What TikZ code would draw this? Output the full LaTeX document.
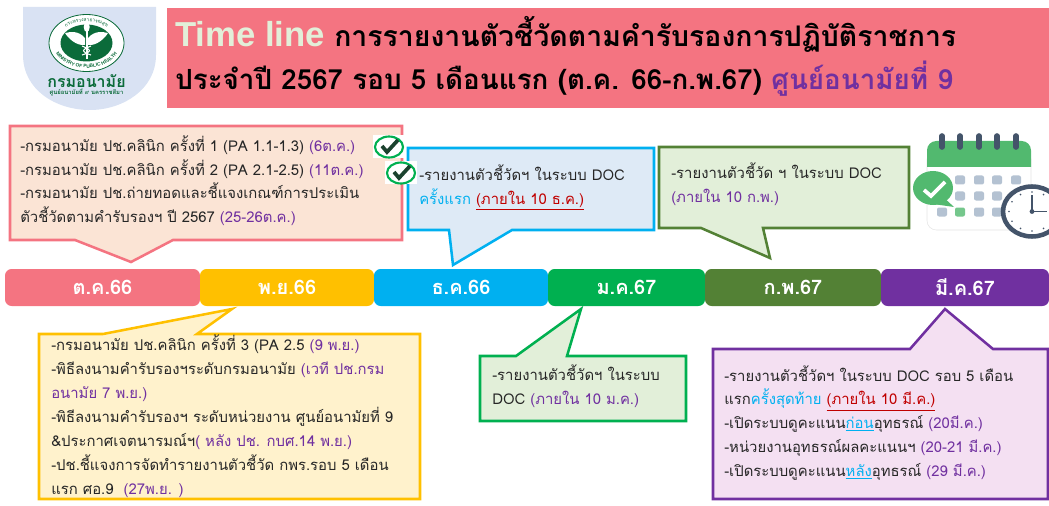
\documentclass[tikz,border=0pt]{standalone}
\usepackage{fontspec}
\usepackage{xcolor}
\usetikzlibrary{calc}
\usetikzlibrary{decorations.text}
\newfontfamily\thaifont[Script=Thai]{Loma}
\newfontfamily\headfont{Liberation Sans}
\definecolor{rosec}{HTML}{F47481}
\definecolor{goldc}{HTML}{FFC000}
\definecolor{skyc}{HTML}{00B0F0}
\definecolor{leafc}{HTML}{00B050}
\definecolor{olivec}{HTML}{538135}
\definecolor{purpc}{HTML}{7030A0}
\definecolor{redc}{HTML}{C00000}
\definecolor{inkc}{HTML}{262626}
\definecolor{logoc}{HTML}{0B6B3A}
\definecolor{logobg}{HTML}{D9E2F3}
\definecolor{peachbg}{HTML}{FBE4D5}
\definecolor{creambg}{HTML}{FFF2CC}
\definecolor{palebg}{HTML}{DEEAF6}
\definecolor{greenbg}{HTML}{E2EFD9}
\definecolor{lilacbg}{HTML}{F4E0F2}
\definecolor{slatec}{HTML}{44546A}
\definecolor{cellc}{HTML}{B4C2D2}
\definecolor{calc}{HTML}{52B96F}
\newcommand{\pu}[1]{\textcolor{purpc}{#1}}
\tikzset{
  boxtext/.style={anchor=base west, inner sep=0, align=left, text=inkc, font=\thaifont\fontsize{11.15}{17.7}\selectfont},
  month/.style={rounded corners=5pt, minimum height=27.75pt, inner sep=0, text=white, font=\thaifont\bfseries\fontsize{15}{17}\selectfont},
  callout/.style={line width=1.9pt, miter limit=10},
  tick/.style={line width=1.6pt, draw=leafc, fill=white},
}
\begin{document}
\begin{tikzpicture}[x=.75pt,y=-.75pt]
\useasboundingbox (0,0) rectangle (1049,506);
\clip (0,0) rectangle (1049,506);

\fill[fill=rosec] (167,8) rectangle (1049,108);

\fill[fill=logobg] (23,7) -- (156,7) -- (156,55) .. controls (156,90) and (122,110) .. (90,110) .. controls (56,110) and (23,90) .. (23,55) -- cycle;
\draw[logoc, fill=white, line width=.6pt] (86.5,43) ellipse [x radius=37.5, y radius=28.5];
\fill[logoc] (86.5,43) ellipse [x radius=26, y radius=18.5];
\path[decorate, decoration={text along path, text align=center, text={|\thaifont\fontsize{3.6}{4}\selectfont\color{logoc}|กระทรวงสาธารณสุข}}] plot[domain=165:15, samples=30] ({86.5+30*cos(\x)},{43-21.5*sin(\x)});
\path[decorate, decoration={text along path, text align=center, text={|\headfont\bfseries\fontsize{3.6}{4}\selectfont\color{logoc}|MINISTRY OF PUBLIC HEALTH}}] plot[domain=195:345, samples=30] ({86.5+33.5*cos(\x)},{43-25*sin(\x)});
\fill[white] (85.5,30) rectangle (88,59);
\fill[white] (86.7,27) ellipse [x radius=3, y radius=5];
\fill[white] (85,38) .. controls (78,30) and (70,32) .. (65,33) .. controls (68,38) and (76,46) .. (85,45) -- cycle;
\fill[white] (88,38) .. controls (95,30) and (103,32) .. (108,33) .. controls (105,38) and (97,46) .. (88,45) -- cycle;
\draw[white, line width=.8pt] (82,46) .. controls (92,50) and (92,52) .. (82,55);
\draw[white, line width=.8pt] (91,46) .. controls (81,50) and (81,52) .. (91,55);
\node[text=logoc, inner sep=0, font=\thaifont\bfseries\fontsize{12}{14}\selectfont] (logoname) at (86.5,81) {กรมอนามัย};
\node[text=logoc, inner sep=0, font=\thaifont\bfseries\fontsize{4.4}{5}\selectfont] (logosub) at (86.5,92.5) {ศูนย์อนามัยที่ ๙ นครราชสีมา};

\node[anchor=base west, inner sep=0, text=greenbg, font=\headfont\bfseries\fontsize{26}{28}\selectfont] (headA) at (175,47) {Time line};
\node[anchor=base west, inner sep=0, font=\thaifont\bfseries\fontsize{21.3}{24}\selectfont] (headB) at (334,47) {การรายงานตัวชี้วัดตามคำรับรองการปฏิบัติราชการ};
\node[anchor=base west, inner sep=0, font=\thaifont\bfseries\fontsize{20.8}{24}\selectfont] (headC) at (175,90) {ประจำปี 2567 รอบ 5 เดือนแรก (ต.ค. 66-ก.พ.67) \textcolor{purpc}{ศูนย์อนามัยที่ 9}};

\draw[callout, draw=rosec, fill=peachbg] (10,126) -- (402,126) -- (402,240) -- (173,240) -- (131,262) -- (75,240) -- (10,240) -- cycle;
\node[boxtext] (octtext) at (20,222.5) {-กรมอนามัย ปช.คลินิก ครั้งที่ 1 (PA 1.1-1.3) \pu{(6ต.ค.)}\\-กรมอนามัย ปช.คลินิก ครั้งที่ 2 (PA 2.1-2.5) \pu{(11ต.ค.)}\\-กรมอนามัย ปช.ถ่ายทอดและชี้แจงเกณฑ์การประเมิน\\ตัวชี้วัดตามคำรับรองฯ ปี 2567 \pu{(25-26ต.ค.)}};

\draw[callout, draw=skyc, fill=palebg] (408,148) -- (654,148) -- (654,230) -- (512,230) -- (453,265) -- (449,230) -- (408,230) -- cycle;
\node[boxtext] (dectext) at (419,204.5) {-รายงานตัวชี้วัดฯ ในระบบ DOC\\\textcolor{skyc}{ครั้งแรก} \textcolor{redc}{\underline{(ภายใน 10 ธ.ค.)}}};

\draw[callout, draw=olivec, fill=greenbg] (659,147) -- (909,147) -- (909,228) -- (763,228) -- (770,258) -- (701,228) -- (659,228) -- cycle;
\node[boxtext] (febtext) at (671,202.5) {-รายงานตัวชี้วัด ฯ ในระบบ DOC\\\pu{(ภายใน 10 ก.พ.)}};

\node[month, fill=rosec, minimum width=146.25pt] (oct) at (102.5,287.5) {ต.ค.66};
\node[month, fill=goldc, minimum width=130.5pt] (nov) at (287,287.5) {พ.ย.66};
\node[month, fill=skyc, minimum width=130.5pt] (dec) at (461,287.5) {ธ.ค.66};
\node[month, fill=leafc, minimum width=117.75pt] (jan) at (626.5,287.5) {ม.ค.67};
\node[month, fill=olivec, minimum width=132pt] (feb) at (793,287.5) {ก.พ.67};
\node[month, fill=purpc, minimum width=126pt] (mar) at (965,287.5) {มี.ค.67};

\draw[callout, draw=goldc, fill=creambg] (39,334) -- (103,334) -- (232,309) -- (197,334) -- (420,334) -- (420,499) -- (39,499) -- cycle;
\node[boxtext, font=\thaifont\fontsize{11.15}{18}\selectfont] (novtext) at (51,494) {-กรมอนามัย ปช.คลินิก ครั้งที่ 3 (PA 2.5 \pu{(9 พ.ย.)}\\-พิธีลงนามคำรับรองฯระดับกรมอนามัย \pu{(เวที ปช.กรม}\\\pu{อนามัย 7 พ.ย.)}\\-พิธีลงนามคำรับรองฯ ระดับหน่วยงาน ศูนย์อนามัยที่ 9\\\&ประกาศเจตนารมณ์ฯ\pu{( หลัง ปช. กบศ.14 พ.ย.)}\\-ปช.ชี้แจงการจัดทำรายงานตัวชี้วัด กพร.รอบ 5 เดือน\\แรก ศอ.9\ \ \pu{(27พ.ย. )}};

\draw[callout, draw=leafc, fill=greenbg] (480,356) -- (516,356) -- (581,309) -- (567,356) -- (686,356) -- (686,421) -- (480,421) -- cycle;
\node[boxtext] (jantext) at (492,404) {-รายงานตัวชี้วัดฯ ในระบบ\\DOC \pu{(ภายใน 10 ม.ค.)}};

\draw[callout, draw=purpc, fill=lilacbg] (713,349) -- (910,349) -- (945,309) -- (993,349) -- (1048,349) -- (1048,499) -- (713,499) -- cycle;
\node[boxtext, font=\thaifont\fontsize{11.15}{17.8}\selectfont] (martext) at (724,476) {-รายงานตัวชี้วัดฯ ในระบบ DOC รอบ 5 เดือน\\แรก\textcolor{skyc}{ครั้งสุดท้าย} \textcolor{redc}{\underline{(ภายใน 10 มี.ค.)}}\\-เปิดระบบดูคะแนน\textcolor{skyc}{\underline{ก่อน}}อุทธรณ์ \pu{(20มี.ค.)}\\-หน่วยงานอุทธรณ์ผลคะแนนฯ \pu{(20-21 มี.ค.)}\\-เปิดระบบดูคะแนน\textcolor{skyc}{\underline{หลัง}}อุทธรณ์ \pu{(29 มี.ค.)}};

\fill[white] (373,135) rectangle (404,158);
\draw[tick] (389,147) ellipse [x radius=14, y radius=10.5];
\draw[inkc!60!logoc, line width=2.8pt] (382,146) -- (387,152) -- (398,140);
\fill[white] (385,161) rectangle (417,184);
\draw[tick] (401,173) ellipse [x radius=14, y radius=10.5];
\draw[inkc!60!logoc, line width=2.8pt] (394,172) -- (399,178) -- (410,166);

\fill[white, draw=gray!20, rounded corners=7pt] (927,150) rectangle (1031,230);
\fill[calc] (927,167) -- (927,150) [rounded corners=7pt] -- (927,141) -- (1031,141) [sharp corners] -- (1031,167) -- cycle;
\foreach \x in {942,960,979,997,1016}
  \draw[slatec, line width=4.2pt, line cap=round] (\x,136) -- (\x,147);
\foreach \x in {960,979,997,1016}
  \fill[cellc, rounded corners=1.5pt] (\x-5,175.5) rectangle (\x+5,184.5);
\foreach \x in {960,979,997}
  \fill[cellc, rounded corners=1.5pt] (\x-5,191.5) rectangle (\x+5,200.5);
\foreach \x in {942,979,997}
  \fill[cellc, rounded corners=1.5pt] (\x-5,207.5) rectangle (\x+5,216.5);
\fill[calc!80!white, rounded corners=1.5pt] (955,207.5) rectangle (965,216.5);
\fill[calc] (933,188) ellipse [x radius=20, y radius=17];
\fill[calc] (941,195) -- (954,207) -- (933,204) -- cycle;
\draw[white, line width=2.8pt] (924,190) -- (931,196) -- (945,182);
\draw[slatec, fill=white, line width=3.4pt] (1032,211.5) ellipse [x radius=29, y radius=25];
\foreach \a in {0,30,...,330}
  \fill[slatec] ($(1032,211.5)+({23*cos(\a)},{19.5*sin(\a)})$) circle (.9);
\draw[slatec, line width=1.3pt] (1032,195) -- (1032,211.5) -- (1047,211.5);
\fill[slatec] (1032,211.5) circle (2.4);
\end{tikzpicture}
\end{document}
